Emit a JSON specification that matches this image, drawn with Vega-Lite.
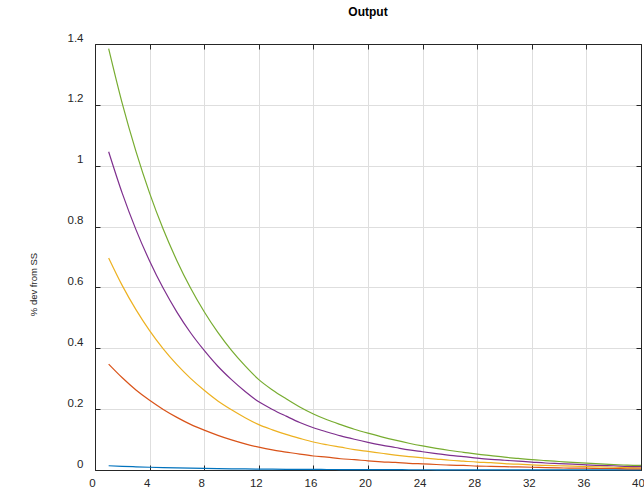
{
  "$schema": "https://vega.github.io/schema/vega-lite/v6.json",
  "width": 546,
  "height": 426,
  "autosize": "none",
  "padding": {"left": 95, "top": 44, "right": 3, "bottom": 28},
  "background": "white",
  "title": {"text": "Output", "font": "Liberation Sans", "fontSize": 12, "fontWeight": "bold", "color": "#000000", "offset": 13},
  "config": {"view": {"stroke": null}},
  "datasets": {
    "series": [
      {"t":1,"s":"a","v":0.0139},{"t":2,"s":"a","v":0.0120},{"t":3,"s":"a","v":0.0105},{"t":4,"s":"a","v":0.0091},{"t":5,"s":"a","v":0.0079},{"t":6,"s":"a","v":0.0069},{"t":7,"s":"a","v":0.0060},{"t":8,"s":"a","v":0.0052},{"t":9,"s":"a","v":0.0045},{"t":10,"s":"a","v":0.0039},
      {"t":11,"s":"a","v":0.0034},{"t":12,"s":"a","v":0.0030},{"t":13,"s":"a","v":0.0026},{"t":14,"s":"a","v":0.0023},{"t":15,"s":"a","v":0.0021},{"t":16,"s":"a","v":0.0018},{"t":17,"s":"a","v":0.0017},{"t":18,"s":"a","v":0.0015},{"t":19,"s":"a","v":0.0013},{"t":20,"s":"a","v":0.0012},
      {"t":21,"s":"a","v":0.0011},{"t":22,"s":"a","v":0.0010},{"t":23,"s":"a","v":0.0009},{"t":24,"s":"a","v":0.0008},{"t":25,"s":"a","v":0.0007},{"t":26,"s":"a","v":0.0006},{"t":27,"s":"a","v":0.0006},{"t":28,"s":"a","v":0.0005},{"t":29,"s":"a","v":0.0005},{"t":30,"s":"a","v":0.0004},
      {"t":31,"s":"a","v":0.0004},{"t":32,"s":"a","v":0.0003},{"t":33,"s":"a","v":0.0003},{"t":34,"s":"a","v":0.0003},{"t":35,"s":"a","v":0.0003},{"t":36,"s":"a","v":0.0002},{"t":37,"s":"a","v":0.0002},{"t":38,"s":"a","v":0.0002},{"t":39,"s":"a","v":0.0002},{"t":40,"s":"a","v":0.0001},
      {"t":1,"s":"b","v":0.348},{"t":2,"s":"b","v":0.303},{"t":3,"s":"b","v":0.263},{"t":4,"s":"b","v":0.229},{"t":5,"s":"b","v":0.199},{"t":6,"s":"b","v":0.173},{"t":7,"s":"b","v":0.150},{"t":8,"s":"b","v":0.131},{"t":9,"s":"b","v":0.114},{"t":10,"s":"b","v":0.099},
      {"t":11,"s":"b","v":0.086},{"t":12,"s":"b","v":0.075},{"t":13,"s":"b","v":0.066},{"t":14,"s":"b","v":0.059},{"t":15,"s":"b","v":0.052},{"t":16,"s":"b","v":0.046},{"t":17,"s":"b","v":0.042},{"t":18,"s":"b","v":0.037},{"t":19,"s":"b","v":0.034},{"t":20,"s":"b","v":0.030},
      {"t":21,"s":"b","v":0.027},{"t":22,"s":"b","v":0.025},{"t":23,"s":"b","v":0.022},{"t":24,"s":"b","v":0.020},{"t":25,"s":"b","v":0.018},{"t":26,"s":"b","v":0.016},{"t":27,"s":"b","v":0.015},{"t":28,"s":"b","v":0.013},{"t":29,"s":"b","v":0.012},{"t":30,"s":"b","v":0.011},
      {"t":31,"s":"b","v":0.010},{"t":32,"s":"b","v":0.009},{"t":33,"s":"b","v":0.008},{"t":34,"s":"b","v":0.007},{"t":35,"s":"b","v":0.006},{"t":36,"s":"b","v":0.006},{"t":37,"s":"b","v":0.005},{"t":38,"s":"b","v":0.005},{"t":39,"s":"b","v":0.004},{"t":40,"s":"b","v":0.004},
      {"t":1,"s":"c","v":0.697},{"t":2,"s":"c","v":0.606},{"t":3,"s":"c","v":0.527},{"t":4,"s":"c","v":0.458},{"t":5,"s":"c","v":0.398},{"t":6,"s":"c","v":0.346},{"t":7,"s":"c","v":0.301},{"t":8,"s":"c","v":0.262},{"t":9,"s":"c","v":0.227},{"t":10,"s":"c","v":0.198},
      {"t":11,"s":"c","v":0.172},{"t":12,"s":"c","v":0.149},{"t":13,"s":"c","v":0.132},{"t":14,"s":"c","v":0.117},{"t":15,"s":"c","v":0.104},{"t":16,"s":"c","v":0.092},{"t":17,"s":"c","v":0.083},{"t":18,"s":"c","v":0.075},{"t":19,"s":"c","v":0.067},{"t":20,"s":"c","v":0.061},
      {"t":21,"s":"c","v":0.055},{"t":22,"s":"c","v":0.049},{"t":23,"s":"c","v":0.044},{"t":24,"s":"c","v":0.040},{"t":25,"s":"c","v":0.036},{"t":26,"s":"c","v":0.032},{"t":27,"s":"c","v":0.029},{"t":28,"s":"c","v":0.026},{"t":29,"s":"c","v":0.024},{"t":30,"s":"c","v":0.021},
      {"t":31,"s":"c","v":0.019},{"t":32,"s":"c","v":0.017},{"t":33,"s":"c","v":0.015},{"t":34,"s":"c","v":0.014},{"t":35,"s":"c","v":0.013},{"t":36,"s":"c","v":0.011},{"t":37,"s":"c","v":0.010},{"t":38,"s":"c","v":0.009},{"t":39,"s":"c","v":0.008},{"t":40,"s":"c","v":0.007},
      {"t":1,"s":"d","v":1.046},{"t":2,"s":"d","v":0.909},{"t":3,"s":"d","v":0.790},{"t":4,"s":"d","v":0.687},{"t":5,"s":"d","v":0.597},{"t":6,"s":"d","v":0.519},{"t":7,"s":"d","v":0.451},{"t":8,"s":"d","v":0.393},{"t":9,"s":"d","v":0.341},{"t":10,"s":"d","v":0.297},
      {"t":11,"s":"d","v":0.258},{"t":12,"s":"d","v":0.224},{"t":13,"s":"d","v":0.199},{"t":14,"s":"d","v":0.177},{"t":15,"s":"d","v":0.156},{"t":16,"s":"d","v":0.139},{"t":17,"s":"d","v":0.125},{"t":18,"s":"d","v":0.112},{"t":19,"s":"d","v":0.101},{"t":20,"s":"d","v":0.091},
      {"t":21,"s":"d","v":0.082},{"t":22,"s":"d","v":0.074},{"t":23,"s":"d","v":0.066},{"t":24,"s":"d","v":0.060},{"t":25,"s":"d","v":0.054},{"t":26,"s":"d","v":0.048},{"t":27,"s":"d","v":0.044},{"t":28,"s":"d","v":0.039},{"t":29,"s":"d","v":0.035},{"t":30,"s":"d","v":0.032},
      {"t":31,"s":"d","v":0.029},{"t":32,"s":"d","v":0.026},{"t":33,"s":"d","v":0.023},{"t":34,"s":"d","v":0.021},{"t":35,"s":"d","v":0.019},{"t":36,"s":"d","v":0.017},{"t":37,"s":"d","v":0.015},{"t":38,"s":"d","v":0.014},{"t":39,"s":"d","v":0.012},{"t":40,"s":"d","v":0.011},
      {"t":1,"s":"e","v":1.385},{"t":2,"s":"e","v":1.204},{"t":3,"s":"e","v":1.047},{"t":4,"s":"e","v":0.910},{"t":5,"s":"e","v":0.791},{"t":6,"s":"e","v":0.688},{"t":7,"s":"e","v":0.598},{"t":8,"s":"e","v":0.520},{"t":9,"s":"e","v":0.452},{"t":10,"s":"e","v":0.393},
      {"t":11,"s":"e","v":0.342},{"t":12,"s":"e","v":0.297},{"t":13,"s":"e","v":0.263},{"t":14,"s":"e","v":0.234},{"t":15,"s":"e","v":0.207},{"t":16,"s":"e","v":0.184},{"t":17,"s":"e","v":0.165},{"t":18,"s":"e","v":0.149},{"t":19,"s":"e","v":0.134},{"t":20,"s":"e","v":0.121},
      {"t":21,"s":"e","v":0.109},{"t":22,"s":"e","v":0.098},{"t":23,"s":"e","v":0.088},{"t":24,"s":"e","v":0.079},{"t":25,"s":"e","v":0.071},{"t":26,"s":"e","v":0.064},{"t":27,"s":"e","v":0.058},{"t":28,"s":"e","v":0.052},{"t":29,"s":"e","v":0.047},{"t":30,"s":"e","v":0.042},
      {"t":31,"s":"e","v":0.038},{"t":32,"s":"e","v":0.034},{"t":33,"s":"e","v":0.031},{"t":34,"s":"e","v":0.028},{"t":35,"s":"e","v":0.025},{"t":36,"s":"e","v":0.0225},{"t":37,"s":"e","v":0.020},{"t":38,"s":"e","v":0.018},{"t":39,"s":"e","v":0.016},{"t":40,"s":"e","v":0.015}
    ]
  },
  "data": {"name": "series"},
  "layer": [
    {
      "mark": {"type": "line", "strokeWidth": 1.2, "interpolate": "monotone"},
      "encoding": {
        "x": {
          "field": "t", "type": "quantitative",
          "scale": {"domain": [0, 40], "nice": false, "zero": false},
          "axis": {
            "orient": "bottom", "title": null,
            "values": [0, 4, 8, 12, 16, 20, 24, 28, 32, 36, 40],
            "format": "d",
            "grid": true, "gridColor": "#dedede", "gridWidth": 1,
            "domainColor": "#262626", "domainWidth": 1,
            "tickColor": "#262626", "tickSize": -5, "tickWidth": 1,
            "labelFont": "Liberation Sans", "labelFontSize": 11.5, "labelColor": "#262626",
            "labelPadding": 12, "labelOffset": -3, "labelFlush": false
          }
        },
        "y": {
          "field": "v", "type": "quantitative",
          "scale": {"domain": [0, 1.4], "nice": false},
          "axis": {
            "orient": "left",
            "values": [0, 0.2, 0.4, 0.6, 0.8, 1, 1.2, 1.4],
            "format": "~g",
            "grid": true, "gridColor": "#dedede", "gridWidth": 1,
            "domainColor": "#262626", "domainWidth": 1,
            "tickColor": "#262626", "tickSize": -5, "tickWidth": 1,
            "labelFont": "Liberation Sans", "labelFontSize": 11.5, "labelColor": "#262626",
            "labelPadding": 17, "labelOffset": -6, "labelFlush": false,
            "title": "% dev from SS",
            "titleFont": "Liberation Sans", "titleFontSize": 9.5, "titleFontWeight": "normal", "titleColor": "#262626",
            "titleX": -62, "titleY": 240, "titleAngle": -90, "titleAlign": "center", "titleBaseline": "middle"
          }
        },
        "color": {
          "field": "s", "type": "nominal",
          "scale": {"domain": ["a", "b", "c", "d", "e"], "range": ["#0072BD", "#D95319", "#EDB120", "#7E2F8E", "#77AC30"]},
          "legend": null
        }
      }
    },
    {
      "mark": {"type": "line", "opacity": 0},
      "encoding": {
        "x": {
          "field": "t", "type": "quantitative",
          "axis": {
            "orient": "top", "title": null, "labels": false, "grid": false,
            "values": [0, 4, 8, 12, 16, 20, 24, 28, 32, 36, 40],
            "domainColor": "#262626", "domainWidth": 1,
            "tickColor": "#262626", "tickSize": -5, "tickWidth": 1
          }
        },
        "y": {
          "field": "v", "type": "quantitative",
          "axis": {
            "orient": "right", "title": null, "labels": false, "grid": false,
            "values": [0, 0.2, 0.4, 0.6, 0.8, 1, 1.2, 1.4],
            "domainColor": "#262626", "domainWidth": 1,
            "tickColor": "#262626", "tickSize": -5, "tickWidth": 1
          }
        }
      }
    }
  ]
}
